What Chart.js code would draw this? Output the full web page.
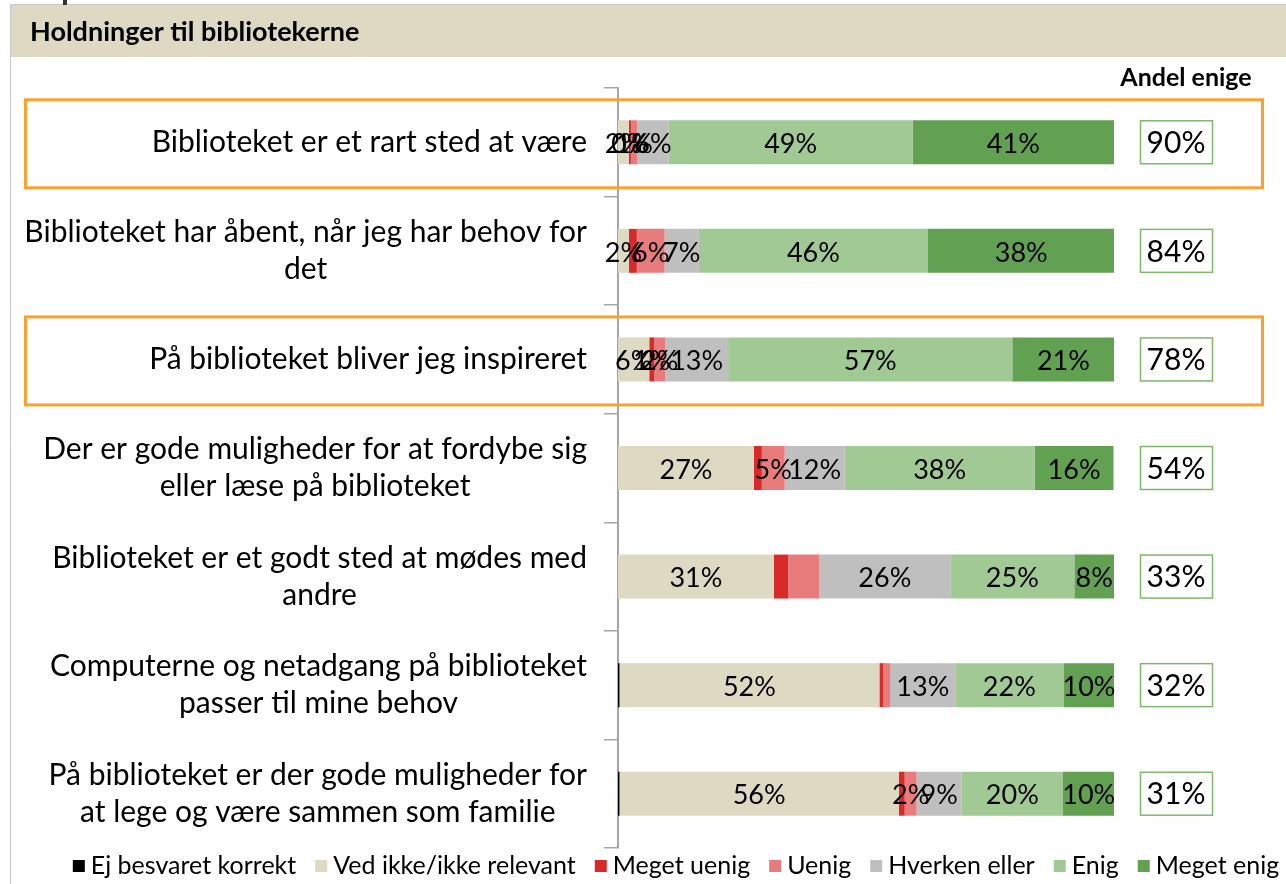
<!DOCTYPE html>
<html>
<head>
<meta charset="utf-8">
<script src="https://cdn.jsdelivr.net/npm/chart.js@4"></script>
<style>
  html, body { margin: 0; padding: 0; background: #ffffff; }
  canvas { display: block; }
</style>
</head>
<body>
<canvas id="chart" width="1286" height="884"></canvas>
<script>
// Statements (one per row)
const categories = [
  ['Biblioteket er et rart sted at være'],
  ['Biblioteket har åbent, når jeg har behov for', 'det'],
  ['På biblioteket bliver jeg inspireret'],
  ['Der er gode muligheder for at fordybe sig', 'eller læse på biblioteket'],
  ['Biblioteket er et godt sted at mødes med', 'andre'],
  ['Computerne og netadgang på biblioteket', 'passer til mine behov'],
  ['På biblioteket er der gode muligheder for', 'at lege og være sammen som familie']
];

// Share of answers per statement, in percent
const ejBesvaret = [0, 0, 0, 0, 0, 0.3, 0.3];
const vedIkke    = [2.2, 2.2, 6.3, 27.4, 31.4, 52.4, 56.3];
const megetUenig = [0.4, 1.6, 1.0, 1.6, 2.9, 0.8, 1.2];
const uenig      = [1.3, 5.6, 2.2, 4.6, 6.3, 1.4, 2.4];
const hverken    = [6.3, 6.9, 12.7, 12.1, 26.4, 13.1, 9.1];
const enig       = [49.2, 46.2, 57.3, 38.3, 25.0, 21.8, 20.4];
const megetEnig  = [40.6, 37.6, 20.6, 15.9, 8.0, 10.3, 10.4];

// Rows framed in orange
const highlightedRows = [0, 2];

const titleText = 'Holdninger til bibliotekerne';
const sideTitle = 'Andel enige';

const FONT = 'Lato, "Noto Sans", sans-serif';
const pct = v => Math.round(v) + '%';

// "Andel enige" = Enig + Meget enig
const andelEnige = enig.map((v, i) => Math.round(v + megetEnig[i]));

const series = [
  { label: 'Ej besvaret korrekt',      data: ejBesvaret, color: '#000000', labelRows: [] },
  { label: 'Ved ikke/ikke relevant',   data: vedIkke,    color: '#DDD9C3', labelRows: [0,1,2,3,4,5,6] },
  { label: 'Meget uenig',              data: megetUenig, color: '#D92A2A', labelRows: [0,2] },
  { label: 'Uenig',                    data: uenig,      color: '#E87C7C', labelRows: [0,1,2,3,6] },
  { label: 'Hverken eller',            data: hverken,    color: '#BFBFBF', labelRows: [0,1,2,3,4,5,6] },
  { label: 'Enig',                     data: enig,       color: '#A0C994', labelRows: [0,1,2,3,4,5,6] },
  { label: 'Meget enig',               data: megetEnig,  color: '#63A152', labelRows: [0,1,2,3,4,5,6] }
];

const decorations = {
  id: 'decorations',
  beforeDraw(chart) {
    const ctx = chart.ctx;
    ctx.save();
    ctx.fillStyle = '#ffffff';
    ctx.fillRect(0, 0, chart.width, chart.height);
    // header band
    ctx.fillStyle = '#DDD9C3';
    ctx.fillRect(10, 5, chart.width - 10, 52);
    ctx.strokeStyle = '#c8c8c8';
    ctx.lineWidth = 1;
    ctx.beginPath();
    ctx.moveTo(10, 4.5); ctx.lineTo(chart.width, 4.5);
    ctx.moveTo(10.5, 5); ctx.lineTo(10.5, chart.height);
    ctx.stroke();
    ctx.fillStyle = '#333333';
    ctx.fillRect(63, 0, 4, 5);
    ctx.fillStyle = '#000000';
    ctx.font = 'bold 27px ' + FONT;
    ctx.textAlign = 'left';
    ctx.textBaseline = 'middle';
    ctx.fillText(titleText, 30, 32);
    ctx.restore();
  },
  afterDatasetsDraw(chart) {
    const ctx = chart.ctx;
    const xs = chart.scales.x;
    const ys = chart.scales.y;
    ctx.save();
    ctx.fillStyle = '#000000';
    ctx.font = '27px ' + FONT;
    ctx.textAlign = 'center';
    ctx.textBaseline = 'middle';
    categories.forEach((_, i) => {
      let cum = 0;
      const yc = ys.getPixelForValue(i);
      series.forEach(s => {
        const v = s.data[i];
        const x0 = xs.getPixelForValue(cum);
        cum += v;
        const x1 = xs.getPixelForValue(cum);
        if (s.labelRows.includes(i)) {
          ctx.fillText(pct(v), (x0 + x1) / 2, yc + 2);
        }
      });
    });
    ctx.restore();
  },
  afterDraw(chart) {
    const ctx = chart.ctx;
    const ys = chart.scales.y;
    ctx.save();

    // category labels: lines centred on each other, block right-aligned
    ctx.fillStyle = '#000000';
    ctx.font = '30px ' + FONT;
    ctx.textBaseline = 'middle';
    ctx.textAlign = 'center';
    const rightEdge = 587;
    const lh = 37;
    categories.forEach((lines, i) => {
      const yc = ys.getPixelForValue(i);
      const w = Math.max(...lines.map(l => ctx.measureText(l).width));
      const cx = rightEdge - w / 2;
      lines.forEach((l, k) => {
        ctx.fillText(l, cx, yc + (k - (lines.length - 1) / 2) * lh);
      });
    });

    // orange frames
    ctx.strokeStyle = '#F9A131';
    ctx.lineWidth = 3;
    highlightedRows.forEach(i => {
      const yc = ys.getPixelForValue(i);
      ctx.strokeRect(25.5, yc - 42.5, 1237, 88);
    });

    // "Andel enige"
    ctx.fillStyle = '#000000';
    ctx.font = 'bold 25px ' + FONT;
    ctx.textAlign = 'center';
    ctx.fillText(sideTitle, 1186, 78);
    ctx.font = '30px ' + FONT;
    andelEnige.forEach((v, i) => {
      const yc = ys.getPixelForValue(i);
      ctx.strokeStyle = '#7DB86B';
      ctx.lineWidth = 1.5;
      ctx.strokeRect(1140.5, yc - 21.5, 72, 43);
      ctx.fillStyle = '#000000';
      ctx.fillText(v + '%', 1176, yc + 1);
    });

    // legend
    ctx.font = '25px ' + FONT;
    ctx.textAlign = 'left';
    const box = 12, gapBox = 6, gapItem = 19;
    const widths = series.map(s => box + gapBox + ctx.measureText(s.label).width);
    const total = widths.reduce((a, b) => a + b, 0) + gapItem * (series.length - 1);
    let x = 676 - total / 2;
    const ly = 866;
    series.forEach((s, k) => {
      ctx.fillStyle = s.color;
      ctx.fillRect(x, ly - box / 2, box, box);
      ctx.fillStyle = '#000000';
      ctx.fillText(s.label, x + box + gapBox, ly);
      x += widths[k] + gapItem;
    });
    ctx.restore();
  }
};

new Chart(document.getElementById('chart'), {
  type: 'bar',
  data: {
    labels: categories,
    datasets: series.map(s => ({
      label: s.label,
      data: s.data,
      backgroundColor: s.color,
      borderWidth: 0,
      categoryPercentage: 1,
      barPercentage: 0.405
    }))
  },
  options: {
    indexAxis: 'y',
    responsive: false,
    animation: false,
    layout: { padding: { left: 0, right: 172, top: 88, bottom: 36 } },
    plugins: {
      legend: { display: false },
      tooltip: { enabled: false }
    },
    scales: {
      x: {
        stacked: true,
        min: 0,
        max: 100,
        display: false
      },
      y: {
        stacked: true,
        offset: true,
        ticks: { display: false },
        grid: {
          offset: true,
          drawOnChartArea: false,
          drawTicks: true,
          tickLength: 14,
          color: '#A6A6A6',
          lineWidth: 1.5
        },
        border: { display: true, color: '#A6A6A6', width: 2 },
        afterFit(scale) { scale.width = 618; }
      }
    }
  },
  plugins: [decorations]
});
</script>
</body>
</html>
